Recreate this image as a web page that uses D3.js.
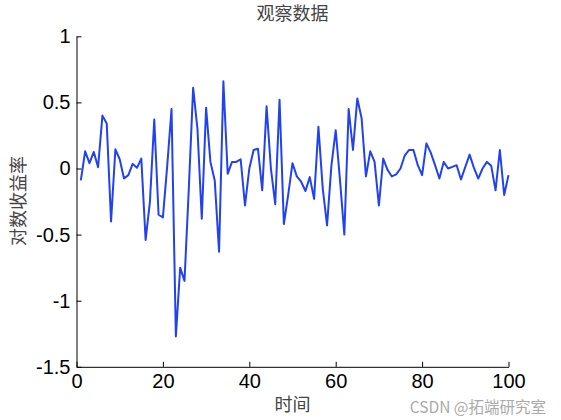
<!DOCTYPE html>
<html><head><meta charset="utf-8">
<script src="https://cdn.jsdelivr.net/npm/d3@7/dist/d3.min.js"></script>
<style>body{margin:0;background:#fff}</style>
</head><body>
<svg id="c" width="561" height="420"></svg>
<script>
const timeSteps = d3.range(1, 101);
const logReturns = [
 -0.09, 0.13, 0.04, 0.125, 0.01, 0.40, 0.34, -0.40, 0.145, 0.07,
 -0.075, -0.05, 0.035, 0.005, 0.075, -0.54, -0.25, 0.37, -0.35, -0.37,
 0.02, 0.45, -1.27, -0.75, -0.85, -0.15, 0.61, 0.30, -0.38, 0.46,
 0.05, -0.09, -0.63, 0.66, -0.04, 0.05, 0.05, 0.07, -0.28, 0.0,
 0.14, 0.15, -0.165, 0.47, 0.0, -0.27, 0.52, -0.42, -0.2, 0.04,
 -0.06, -0.1, -0.17, -0.065, -0.23, 0.315, -0.15, -0.43, 0.02, 0.29,
 -0.09, -0.5, 0.45, 0.14, 0.53, 0.38, -0.06, 0.13, 0.05, -0.28,
 0.075, -0.01, -0.06, -0.045, 0.0, 0.1, 0.14, 0.14, 0.025, -0.05,
 0.19, 0.12, 0.025, -0.076, 0.05, 0.0, 0.012, 0.025, -0.083, 0.012,
 0.105, 0.005, -0.076, 0.0, 0.05, 0.02, -0.165, 0.14, -0.2, -0.05
];
const xTicks = [0, 20, 40, 60, 80, 100];
const yTicks = [-1.5, -1, -0.5, 0, 0.5, 1];
const titleText = "观察数据";
const xLabel = "时间";
const yLabel = "对数收益率";
const watermark = "CSDN @拓端研究室";

const svg = d3.select("#c");
const L = 76.5, R = 508.5, T = 36.3, B = 366.8;
const x = d3.scaleLinear().domain([0, 100]).range([L, R]);
const y = d3.scaleLinear().domain([-1.5, 1]).range([B, T]);
const tickFont = "'Liberation Sans', Arial, sans-serif";
const cjkFont = "'Noto Sans CJK SC', sans-serif";

// x axis
const xAxis = d3.axisBottom(x).tickValues(xTicks).tickFormat(d3.format("d")).tickSizeInner(-5).tickSizeOuter(0).tickPadding(7);
const gx = svg.append("g").attr("transform", `translate(0,${B})`).call(xAxis);
// y axis
const yAxis = d3.axisLeft(y).tickValues(yTicks).tickFormat(d => String(d)).tickSizeInner(-5).tickSizeOuter(0).tickPadding(6);
const gy = svg.append("g").attr("transform", `translate(${L},0)`).call(yAxis);
[gx, gy].forEach(g => {
  g.select(".domain").attr("stroke", "#000").attr("stroke-width", 1);
  g.selectAll(".tick line").attr("stroke", "#000").attr("stroke-width", 1);
  g.selectAll(".tick text").attr("fill", "#000").style("font-family", tickFont).style("font-size", "20px");
});
gx.selectAll(".tick text").attr("dy", "0.71em");

// line
const line = d3.line().x((d, i) => x(timeSteps[i])).y(d => y(d));
svg.append("path").datum(logReturns).attr("d", line)
  .attr("fill", "none").attr("stroke", "#2142ee").attr("stroke-width", 2).attr("stroke-linejoin", "round");

// title & labels
svg.append("text").attr("x", (L + R) / 2).attr("y", 20).attr("text-anchor", "middle")
  .style("font-family", cjkFont).style("font-size", "18px").attr("fill", "#444").text(titleText);
svg.append("text").attr("x", (L + R) / 2).attr("y", 411).attr("text-anchor", "middle")
  .style("font-family", cjkFont).style("font-size", "18px").attr("fill", "#444").text(xLabel);
svg.append("text").attr("transform", `translate(25,201) rotate(-90)`).attr("text-anchor", "middle")
  .style("font-family", cjkFont).style("font-size", "18px").attr("fill", "#444").text(yLabel);
svg.append("text").attr("x", 546).attr("y", 413).attr("text-anchor", "end")
  .style("font-family", cjkFont).style("font-size", "15.5px").attr("fill", "#aaa").text(watermark);
</script>
</body></html>
